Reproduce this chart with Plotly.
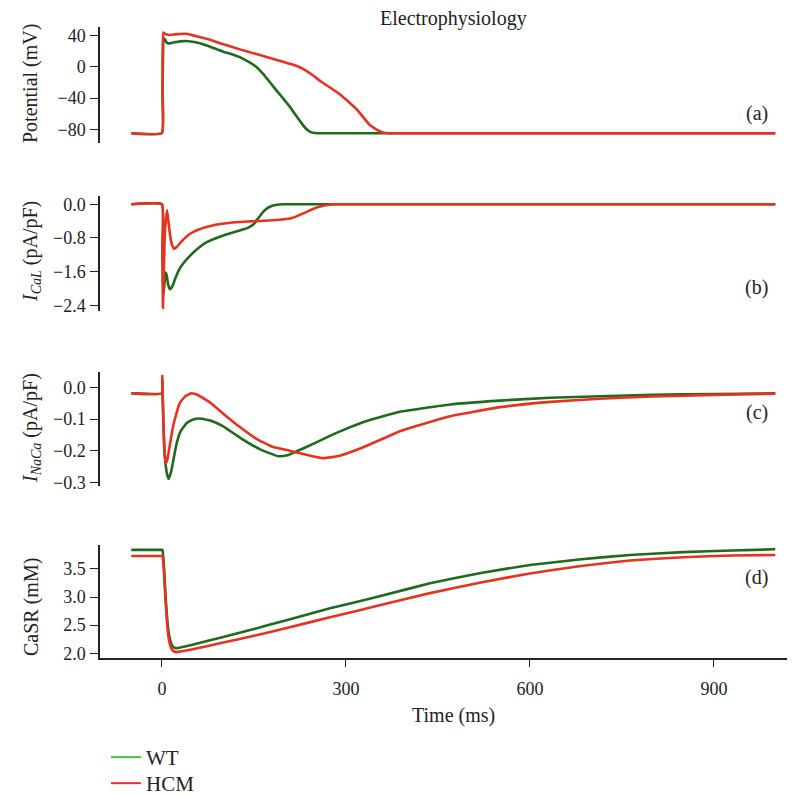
import plotly.graph_objects as go

# ---------------- data ----------------
# (a) Action potential (mV)
ap_wt_t = [-50, 0, 1, 2, 3, 5, 8, 11, 15, 20, 30, 40, 55, 73, 90, 100, 115, 127, 140, 154, 165, 181, 195, 209, 220, 230, 236, 241, 246, 255, 300, 500, 1000]
ap_wt_v = [-85, -85, -40, 30, 37, 35, 31, 30, 30.5, 31.5, 32.8, 33.3, 31.5, 27.5, 22.5, 19.5, 16, 12.5, 7, 0, -9, -24.6, -38, -51.6, -64, -74.6, -80, -83, -84.5, -85, -85, -85, -85]
ap_hcm_t = [-50, 0, 1, 2, 4, 8, 12, 18, 25, 40, 55, 73, 100, 127, 154, 190, 205, 220, 230, 242, 260, 290, 317, 339, 348, 355, 362, 370, 500, 1000]
ap_hcm_v = [-85, -85, -30, 44, 43, 41.5, 41, 41.5, 42, 42.5, 39.5, 36, 29, 22.5, 16.4, 8.2, 4.7, 1.2, -2.5, -8.5, -19, -35, -54, -74.6, -79.5, -82.5, -84.5, -85, -85, -85]

# (b) I_CaL (pA/pF)
cal_wt_t = [-50, 0, 1, 2, 4, 6, 8, 10, 13, 17, 22, 30, 46, 60, 73, 100, 127, 140, 149, 157, 165, 172, 179, 188, 198, 1000]
cal_wt_v = [0, 0, -1.0, -2.2, -1.9, -1.62, -1.7, -1.9, -2.02, -1.95, -1.75, -1.5, -1.22, -1.03, -0.90, -0.74, -0.62, -0.56, -0.48, -0.33, -0.18, -0.09, -0.04, -0.01, 0, 0]
cal_hcm_t = [-50, 0, 0.8, 1.6, 3, 5, 8.5, 12, 16, 20, 25, 32, 46, 60, 84, 105, 127, 154, 180, 209, 222, 236, 248, 258, 270, 285, 1000]
cal_hcm_v = [0, 0, -1.0, -2.46, -1.6, -0.6, -0.14, -0.6, -0.95, -1.06, -1.0, -0.88, -0.70, -0.60, -0.50, -0.45, -0.42, -0.40, -0.38, -0.34, -0.27, -0.18, -0.10, -0.05, -0.015, 0, 0]

# (c) I_NaCa (pA/pF)
ncx_wt_t = [-50, 0, 0.5, 1.5, 4, 8, 11, 15, 20, 24, 30, 40, 50, 62, 80, 100, 127, 160, 190, 205, 219, 250, 279, 306, 334, 388, 470, 551, 633, 714, 800, 900, 1000]
ncx_wt_v = [-0.019, -0.019, 0.02, -0.05, -0.2, -0.27, -0.288, -0.265, -0.215, -0.176, -0.14, -0.113, -0.102, -0.098, -0.105, -0.123, -0.158, -0.195, -0.217, -0.214, -0.202, -0.175, -0.148, -0.126, -0.106, -0.077, -0.054, -0.042, -0.033, -0.028, -0.024, -0.021, -0.019]
ncx_hcm_t = [-50, 0, 0.5, 1.5, 3, 5, 6.5, 9, 13, 18, 24, 29, 38, 48, 60, 80, 100, 127, 154, 180, 209, 235, 263, 290, 334, 388, 470, 551, 633, 714, 800, 900, 1000]
ncx_hcm_v = [-0.019, -0.019, 0.035, -0.05, -0.15, -0.22, -0.239, -0.225, -0.18, -0.124, -0.08, -0.05, -0.028, -0.019, -0.026, -0.05, -0.083, -0.125, -0.162, -0.187, -0.2, -0.212, -0.223, -0.215, -0.184, -0.138, -0.091, -0.0625, -0.046, -0.036, -0.029, -0.024, -0.02]

# (d) CaSR (mM)
casr_wt_t = [-50, 0, 1, 3, 6, 9, 12, 16, 20, 24, 50, 100, 150, 200, 274, 350, 437, 520, 600, 680, 763, 850, 930, 1000]
casr_wt_v = [3.84, 3.84, 3.84, 3.6, 3.0, 2.55, 2.3, 2.15, 2.1, 2.09, 2.15, 2.29, 2.43, 2.58, 2.80, 3.0, 3.245, 3.43, 3.57, 3.67, 3.75, 3.80, 3.83, 3.85]
casr_hcm_t = [-50, 0, 1, 3, 6, 9, 12, 16, 20, 24, 50, 100, 150, 200, 274, 350, 437, 520, 600, 680, 763, 850, 930, 1000]
casr_hcm_v = [3.73, 3.73, 3.73, 3.5, 2.9, 2.45, 2.2, 2.07, 2.03, 2.02, 2.07, 2.19, 2.31, 2.44, 2.64, 2.84, 3.07, 3.26, 3.42, 3.55, 3.65, 3.71, 3.74, 3.75]

panel_labels = ["(a)", "(b)", "(c)", "(d)"]
y_titles = ["Potential (mV)",
            "<i>I</i><sub><i>CaL</i></sub> (pA/pF)",
            "<i>I</i><sub><i>NaCa</i></sub> (pA/pF)",
            "CaSR (mM)"]
x_ticks = [0, 300, 600, 900]
y_ticks = [[40, 0, -40, -80], [0.0, -0.8, -1.6, -2.4], [0.0, -0.1, -0.2, -0.3], [3.5, 3.0, 2.5, 2.0]]
y_ticktext = [["40", "0", "−40", "−80"], ["0.0", "−0.8", "−1.6", "−2.4"],
              ["0.0", "−0.1", "−0.2", "−0.3"], ["3.5", "3.0", "2.5", "2.0"]]
series_names = ["WT", "HCM"]

# ---------------- style ----------------
# The page body adds an 8 px margin, so the figure is made 8 px smaller and
# every screen position below is given in window pixels and shifted by OFF.
OFF = 8
W, H = 795 - OFF, 797 - OFF
ML, MR = 100 - OFF, 5
PW = W - ML - MR
FONT = "Liberation Serif"
GREEN = "#1f6b1c"
RED = "#e8321f"
LEG_GREEN = "#3cc43c"
LEG_RED = "#e8321f"
TXT = "#222222"
TXT_SIZE = 20
TICK_SIZE = 18

panel_px = [(27.3, 142.7), (196.0, 310.7), (371.7, 486.0), (545.0, 657.7)]
y_ranges = [[-97.2, 50.8], [-2.528, 0.197], [-0.3104, 0.049], [1.92, 3.927]]
x_range = [-101, 1024]
label_px_y = [114, 287, 412, 577]
ytitle_px_y = [84, 252, 428, 607]

def py(p):
    return 1 - (p - OFF) / H

def px(p):
    return (p - OFF - ML) / PW

data_sets = [
    (ap_wt_t, ap_wt_v, ap_hcm_t, ap_hcm_v),
    (cal_wt_t, cal_wt_v, cal_hcm_t, cal_hcm_v),
    (ncx_wt_t, ncx_wt_v, ncx_hcm_t, ncx_hcm_v),
    (casr_wt_t, casr_wt_v, casr_hcm_t, casr_hcm_v),
]

fig = go.Figure()
for i, (wt_t, wt_v, hcm_t, hcm_v) in enumerate(data_sets):
    sfx = "" if i == 0 else str(i + 1)
    fig.add_trace(go.Scatter(x=wt_t, y=wt_v, mode="lines", name=series_names[0],
                             line=dict(color=GREEN, width=2.6, shape="spline", smoothing=0.35),
                             showlegend=False, xaxis="x" + sfx, yaxis="y" + sfx))
    fig.add_trace(go.Scatter(x=hcm_t, y=hcm_v, mode="lines", name=series_names[1],
                             line=dict(color=RED, width=2.6, shape="spline", smoothing=0.35),
                             showlegend=False, xaxis="x" + sfx, yaxis="y" + sfx))

# legend entries (one legend box each so the row spacing matches)
fig.add_trace(go.Scatter(x=[None], y=[None], mode="lines", name=series_names[0],
                         line=dict(color=LEG_GREEN, width=2), xaxis="x4", yaxis="y4",
                         legend="legend"))
fig.add_trace(go.Scatter(x=[None], y=[None], mode="lines", name=series_names[1],
                         line=dict(color=LEG_RED, width=2), xaxis="x4", yaxis="y4",
                         legend="legend2"))

leg_common = dict(xanchor="left", yanchor="top",
                  font=dict(size=TXT_SIZE + 1, family=FONT, color=TXT),
                  itemwidth=30, bgcolor="rgba(0,0,0,0)")

layout = dict(
    width=W, height=H,
    margin=dict(l=ML, r=MR, t=0, b=0, autoexpand=False),
    paper_bgcolor="white", plot_bgcolor="white",
    font=dict(family=FONT, size=TICK_SIZE, color=TXT),
    showlegend=True,
    legend=dict(x=px(106), y=py(737), **leg_common),
    legend2=dict(x=px(106), y=py(763), **leg_common),
)
annotations = []
for i in range(4):
    sfx = "" if i == 0 else str(i + 1)
    top, bot = panel_px[i]
    last = (i == 3)
    layout["xaxis" + sfx] = dict(
        domain=[0, 1], range=x_range, anchor="y" + sfx,
        visible=last, showgrid=False, zeroline=False, automargin=False,
        showline=last, linecolor="#222", linewidth=1.5,
        ticks="outside" if last else "", ticklen=8, tickwidth=1.3, tickcolor="#222",
        tickvals=x_ticks, ticktext=[str(v) for v in x_ticks],
        tickfont=dict(size=TICK_SIZE, family=FONT, color=TXT),
        ticklabelstandoff=6,
    )
    if i > 0:
        layout["xaxis" + sfx]["matches"] = "x"
    layout["yaxis" + sfx] = dict(
        domain=[py(bot), py(top)], range=y_ranges[i], anchor="x" + sfx,
        showgrid=False, zeroline=False, showline=True, linecolor="#222", linewidth=1.5,
        automargin=False,
        ticks="outside", ticklen=8, tickwidth=1.3, tickcolor="#222",
        tickvals=y_ticks[i], ticktext=y_ticktext[i],
        tickfont=dict(size=TICK_SIZE, family=FONT, color=TXT),
        ticklabelstandoff=1,
    )
    annotations.append(dict(text=panel_labels[i], xref="paper", yref="paper",
                            x=px(770), y=py(label_px_y[i]), xanchor="right", yanchor="middle",
                            showarrow=False, font=dict(size=TXT_SIZE, family=FONT, color=TXT)))
    annotations.append(dict(text=y_titles[i], xref="paper", yref="paper",
                            x=px(31), y=py(ytitle_px_y[i]), xanchor="center", yanchor="middle",
                            textangle=-90, showarrow=False,
                            font=dict(size=TXT_SIZE, family=FONT, color=TXT)))

annotations.append(dict(text="Electrophysiology", xref="paper", yref="paper",
                        x=px(453), y=py(18), xanchor="center", yanchor="middle",
                        showarrow=False, font=dict(size=TXT_SIZE, family=FONT, color=TXT)))
annotations.append(dict(text="Time (ms)", xref="paper", yref="paper",
                        x=px(453), y=py(715), xanchor="center", yanchor="middle",
                        showarrow=False, font=dict(size=TXT_SIZE, family=FONT, color=TXT)))
layout["annotations"] = annotations

fig.update_layout(**layout)
fig.write_html("out.html")
